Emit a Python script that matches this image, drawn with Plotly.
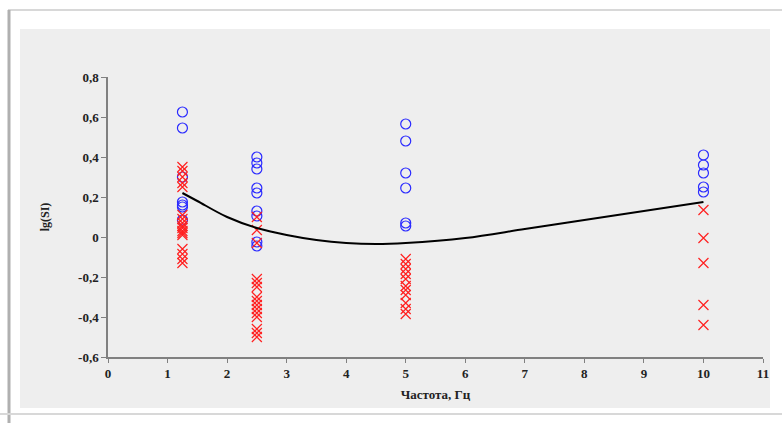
import plotly.graph_objects as go

# ---- data ----
circ_x = [1.25]*7 + [2.5]*9 + [5]*6 + [10]*5
circ_y = [0.625, 0.545, 0.30, 0.175, 0.16, 0.15, 0.085,
          0.40, 0.37, 0.34, 0.245, 0.22, 0.13, 0.105, -0.025, -0.045,
          0.565, 0.48, 0.32, 0.245, 0.07, 0.055,
          0.41, 0.36, 0.32, 0.25, 0.225]

cross_x = [1.25]*17 + [2.5]*15 + [5]*11 + [10]*5
cross_y = [0.35, 0.33, 0.30, 0.27, 0.25,
           0.11, 0.09, 0.07, 0.055, 0.045, 0.03, 0.02, 0.01,
           -0.06, -0.085, -0.11, -0.13,
           0.10, 0.035, -0.03,
           -0.21, -0.23, -0.25, -0.30, -0.32, -0.34, -0.36, -0.38, -0.40, -0.46, -0.48, -0.50,
           -0.11, -0.135, -0.16, -0.185, -0.21, -0.245, -0.265, -0.29, -0.33, -0.36, -0.385,
           0.135, -0.005, -0.13, -0.34, -0.44]

trend_x = [1.25, 1.5, 2, 2.5, 3, 3.5, 4, 4.5, 5, 6, 7, 8, 9, 10]
trend_y = [0.22, 0.18, 0.10, 0.045, 0.01, -0.015, -0.03, -0.035, -0.03, -0.005, 0.04, 0.085, 0.13, 0.175]

x_ticks = list(range(0, 12))
x_labels = [str(v) for v in x_ticks]
y_ticks = [-0.6, -0.4, -0.2, 0, 0.2, 0.4, 0.6, 0.8]
y_labels = ["-0,6", "-0,4", "-0,2", "0", "0,2", "0,4", "0,6", "0,8"]

fig = go.Figure()
fig.add_trace(go.Scatter(x=circ_x, y=circ_y, mode="markers",
                         marker=dict(symbol="circle-open", size=10, color="#2a2aff",
                                     line=dict(width=1.2, color="#2a2aff")),
                         showlegend=False))
fig.add_trace(go.Scatter(x=cross_x, y=cross_y, mode="markers",
                         marker=dict(symbol="x-thin-open", size=10, color="#ff2020",
                                     line=dict(width=1.2, color="#ff2020")),
                         showlegend=False))
fig.add_trace(go.Scatter(x=trend_x, y=trend_y, mode="lines",
                         line=dict(color="black", width=2, shape="spline"),
                         showlegend=False))

L, R, T, B = 108, 19, 77, 66
W, H = 782, 423
pw, ph = W - L - R, H - T - B

def px(x):
    return (x - L) / pw

def py(y):
    return (H - B - y) / ph

shapes = [
    # grey chart area
    dict(type="rect", xref="paper", yref="paper", x0=px(20), x1=px(770), y0=py(408), y1=py(29),
         fillcolor="#eeeeee", line=dict(width=0), layer="below"),
    # outer frame lines
    dict(type="line", xref="paper", yref="paper", x0=px(8), x1=px(782), y0=py(10), y1=py(10),
         line=dict(color="#d8d8d8", width=2), layer="below"),
    dict(type="line", xref="paper", yref="paper", x0=px(9), x1=px(9), y0=py(10), y1=py(423),
         line=dict(color="#b0b0b0", width=3), layer="below"),
    dict(type="line", xref="paper", yref="paper", x0=px(0), x1=px(782), y0=py(414), y1=py(414),
         line=dict(color="#d8d8d8", width=2), layer="below"),
]

serif = "Liberation Serif, Times New Roman, serif"
tf = dict(family=serif, size=13, color="#222222")
fig.update_layout(
    width=W, height=H,
    margin=dict(l=L, r=R, t=T, b=B, autoexpand=False),
    paper_bgcolor="white",
    plot_bgcolor="rgba(0,0,0,0)",
    shapes=shapes,
    xaxis=dict(range=[0, 11], tickvals=x_ticks, ticktext=["<b>%s</b>" % s for s in x_labels],
               showgrid=False, zeroline=False,
               showline=True, linecolor="#808080", linewidth=1.5, ticks="outside", ticklen=4,
               tickcolor="#808080", automargin=False, tickfont=tf,
               title=dict(text="<b>Частота, Гц</b>", font=dict(family=serif, size=13, color="#222222"),
                          standoff=10)),
    yaxis=dict(range=[-0.6, 0.8], tickvals=y_ticks, ticktext=["<b>%s</b>" % s for s in y_labels],
               showgrid=False, zeroline=False,
               showline=True, linecolor="#808080", linewidth=1.5, ticks="outside", ticklen=5,
               tickcolor="#808080", automargin=False, tickfont=tf,
               title=dict(text="<b>lg(SI)</b>", font=dict(family=serif, size=12, color="#222222"),
                          standoff=26)),
)

fig.write_html("out.html", config={"displayModeBar": False},
               post_script="document.body.style.margin='0';document.body.style.overflow='hidden';")
